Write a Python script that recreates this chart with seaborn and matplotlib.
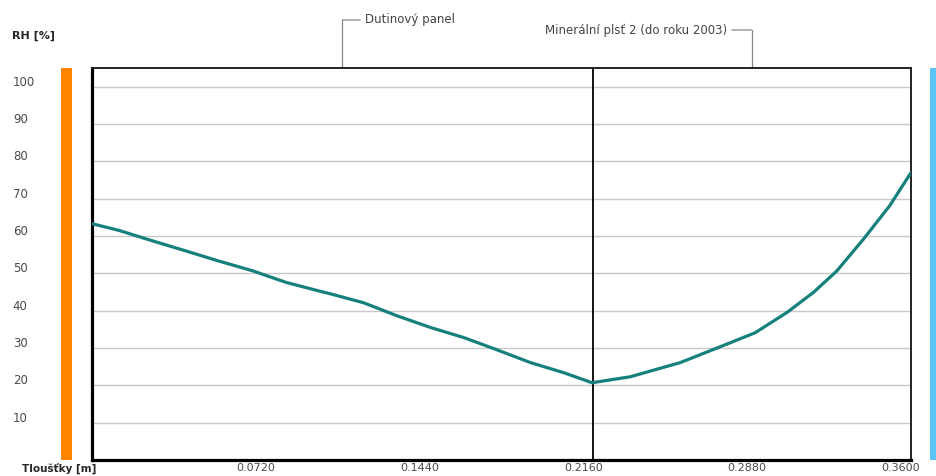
"""RH profile through wall layers (Dutinový panel + Minerální plsť 2)"""

import numpy as np
import pandas as pd
import matplotlib
matplotlib.use("Agg")
import matplotlib.pyplot as plt
import matplotlib.transforms as mtransforms
from matplotlib.patches import Rectangle
import seaborn as sns

# Data
thickness = [0.0, 0.0119, 0.0266, 0.0413, 0.0557, 0.0705, 0.0852, 0.0996, 0.1049,
             0.1195, 0.1342, 0.1488, 0.1634, 0.1781, 0.1927, 0.2073, 0.2198,
             0.2366, 0.2586, 0.2805, 0.2915, 0.3054, 0.3171, 0.3273, 0.3390,
             0.3506, 0.3600]
rh = [63.3, 61.5, 58.7, 56.0, 53.3, 50.7, 47.6, 45.3, 44.5,
      42.1, 38.6, 35.5, 32.8, 29.5, 26.1, 23.4, 20.7,
      22.3, 26.1, 31.4, 34.1, 39.5, 44.9, 50.6, 59.1,
      68.1, 77.0]

layer_names = ["Dutinový panel", "Minerální plsť 2 (do roku 2003)"]
layer_bounds = [0.0, 0.22, 0.36]

x_ticks = [0.036 * i for i in range(11)]
x_labels = ["", "", "0.0720", "", "0.1440", "", "0.2160", "", "0.2880", "", "0.3600"]
y_ticks = [10, 20, 30, 40, 50, 60, 70, 80, 90, 100]

df = pd.DataFrame({"x": thickness, "rh": rh})

sns.set_style("white")
plt.rcParams["font.family"] = ["DejaVu Sans"]

fig = plt.figure(figsize=(9.37, 4.77), dpi=100)
ax = fig.add_axes([0.0982, 0.0335, 0.8741, 0.8218])

# grid
for y in y_ticks:
    ax.axhline(y, color="#c8c8c8", lw=1.0, zorder=1)

# interface between layers
ax.axvline(layer_bounds[1], color="black", lw=1.3, zorder=2)

sns.lineplot(data=df, x="x", y="rh", ax=ax, color="#16807c", lw=2.3, zorder=3)

ax.set_xlim(0, 0.36)
ax.set_ylim(0, 105)
ax.set_xlabel("")
ax.set_ylabel("")

ax.set_xticks(x_ticks)
ax.set_xticklabels(x_labels)
ax.tick_params(axis="x", direction="in", length=5, width=0.8, color="#aaaaaa",
               labelsize=8, labelcolor="#4a4a4a", pad=1.5)
last = ax.get_xticklabels()[-1]
last.set_transform(last.get_transform() +
                   mtransforms.ScaledTranslation(-10 / 100, 0, fig.dpi_scale_trans))

ax.set_yticks(y_ticks)
ax.set_yticklabels([str(v) for v in y_ticks])
ax.tick_params(axis="y", length=0, labelsize=8.5, labelcolor="#4a4a4a", pad=57)
offset = mtransforms.ScaledTranslation(0, 7 / 100, fig.dpi_scale_trans)
for lab in ax.get_yticklabels():
    lab.set_horizontalalignment("left")
    lab.set_transform(lab.get_transform() + offset)

for side in ["left", "bottom"]:
    ax.spines[side].set_linewidth(2.3)
    ax.spines[side].set_color("black")
for side in ["top", "right"]:
    ax.spines[side].set_linewidth(1.4)
    ax.spines[side].set_color("#222222")

# axis titles
fig.text(12 / 937, 1 - 36 / 477, "RH [%]", fontsize=8, fontweight="bold",
         ha="left", va="center")
fig.text(22 / 937, 1 - 469 / 477, "Tloušťky [m]", fontsize=7.5, fontweight="bold",
         ha="left", va="center")

# material colour bars
fig.add_artist(Rectangle((61 / 937, 1 - 461 / 477), 11 / 937, 392 / 477,
                         transform=fig.transFigure, color="#ff8400", lw=0))
fig.add_artist(Rectangle((930 / 937, 1 - 461 / 477), 8 / 937, 392 / 477,
                         transform=fig.transFigure, color="#5cc3f6", lw=0))

# layer brackets above the plot
trans = mtransforms.blended_transform_factory(ax.transData, fig.transFigure)
top_y = 1 - 69 / 477
bracket_y = [1 - 21 / 477, 1 - 31 / 477]
for i, name in enumerate(layer_names):
    mid = (layer_bounds[i] + layer_bounds[i + 1]) / 2
    by = bracket_y[i]
    ax.plot([mid, mid], [top_y, by], color="#888888", lw=0.9, transform=trans, clip_on=False)
    if i == 0:
        ax.annotate("", xy=(mid, by), xycoords=trans, xytext=(18, 0), textcoords="offset pixels",
                    arrowprops=dict(arrowstyle="-", color="#888888", lw=0.9, shrinkA=0, shrinkB=0))
        ax.annotate(name, xy=(mid, by), xycoords=trans, xytext=(23, 1), textcoords="offset pixels",
                    fontsize=8.5, color="#444444", ha="left", va="center")
    else:
        ax.annotate("", xy=(mid, by), xycoords=trans, xytext=(-20, 0), textcoords="offset pixels",
                    arrowprops=dict(arrowstyle="-", color="#888888", lw=0.9, shrinkA=0, shrinkB=0))
        ax.annotate(name, xy=(mid, by), xycoords=trans, xytext=(-25, 1), textcoords="offset pixels",
                    fontsize=8.5, color="#444444", ha="right", va="center")

fig.savefig("out.png", dpi=100)
